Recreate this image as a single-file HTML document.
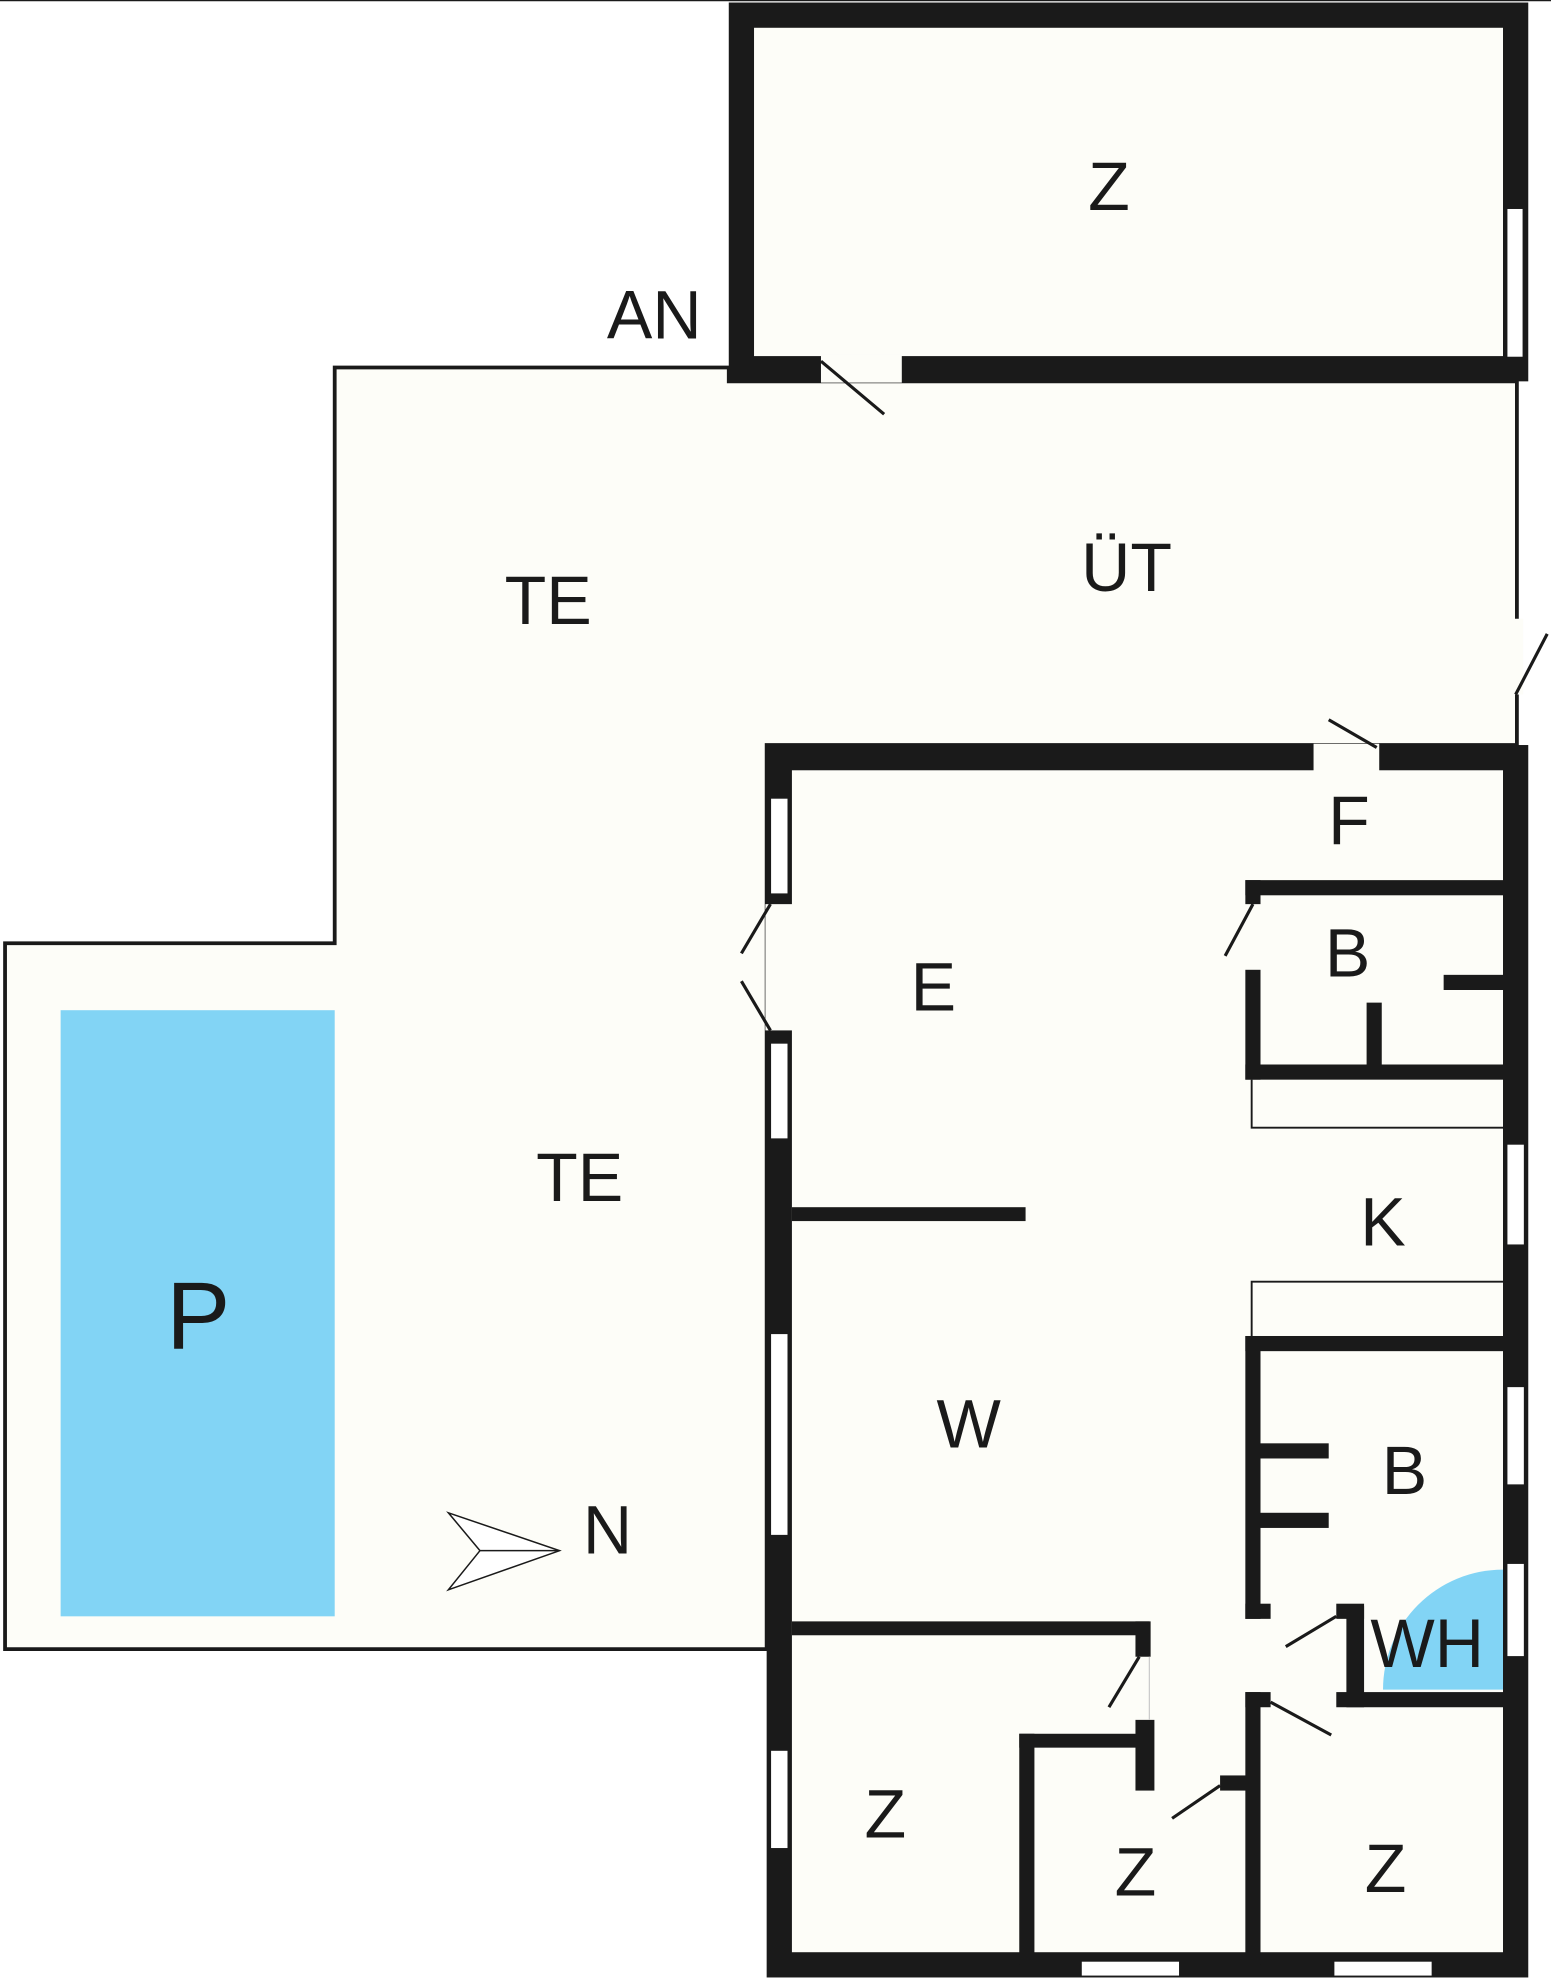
<!DOCTYPE html>
<html><head><meta charset="utf-8"><style>
html,body{margin:0;padding:0;background:#fff}
svg{display:block}
text{font-family:"Liberation Sans Narrow","Liberation Sans",sans-serif;fill:#1a1a1a;text-anchor:middle;dominant-baseline:central}
</style></head><body>
<svg width="1551" height="1980" viewBox="0 0 1228 1568" preserveAspectRatio="none" xmlns="http://www.w3.org/2000/svg">
<rect x="0" y="0" width="1228" height="1568" fill="#fff"/>
<line x1="0" y1="0.5" x2="1228" y2="0.5" stroke="#1a1a1a" stroke-width="1"/>
<!-- terrace -->
<polygon points="577,291 265,291 265,747 4,747 4,1306 607,1306 607,590 1201,590 1201,302 577,302" fill="#fdfdf8" stroke="#1a1a1a" stroke-width="3"/>
<rect x="1196" y="490" width="10" height="60" fill="#fdfdf8"/>
<line x1="1200" y1="550" x2="1225" y2="502" stroke="#1a1a1a" stroke-width="2.5"/>
<!-- garage -->
<rect x="587" y="12" width="613" height="280" fill="#fdfdf8" stroke="#1a1a1a" stroke-width="20"/>
<rect x="650" y="281" width="64" height="22" fill="#fdfdf8"/>
<line x1="650" y1="286" x2="700" y2="328" stroke="#1a1a1a" stroke-width="2.5"/>
<rect x="1193" y="165" width="13" height="118" fill="#fff" stroke="#1a1a1a" stroke-width="1"/>
<!-- house -->
<rect x="617" y="600" width="583" height="956" fill="#fdfdf8" stroke="#1a1a1a" stroke-width="20"/>
<rect x="1040" y="589" width="52" height="22" fill="#fdfdf8"/>
<line x1="1052" y1="570" x2="1090" y2="592" stroke="#1a1a1a" stroke-width="2.5"/>
<!-- left wall openings -->
<rect x="610" y="632" width="14" height="76" fill="#fff" stroke="#1a1a1a" stroke-width="1"/>
<rect x="606" y="716" width="22" height="100" fill="#fdfdf8"/>
<line x1="587" y1="755" x2="610" y2="716" stroke="#1a1a1a" stroke-width="2.5"/>
<line x1="587" y1="777" x2="610" y2="816" stroke="#1a1a1a" stroke-width="2.5"/>
<rect x="610" y="826" width="14" height="76" fill="#fff" stroke="#1a1a1a" stroke-width="1"/>
<rect x="610" y="1056" width="14" height="160" fill="#fff" stroke="#1a1a1a" stroke-width="1"/>
<rect x="610" y="1386" width="14" height="78" fill="#fff" stroke="#1a1a1a" stroke-width="1"/>
<!-- right wall windows -->
<rect x="1193" y="906" width="14" height="80" fill="#fff" stroke="#1a1a1a" stroke-width="1"/>
<rect x="1193" y="1098" width="14" height="78" fill="#fff" stroke="#1a1a1a" stroke-width="1"/>
<rect x="1193" y="1238" width="14" height="74" fill="#fff" stroke="#1a1a1a" stroke-width="1"/>
<!-- bottom windows -->
<rect x="856" y="1553" width="78" height="12" fill="#fff" stroke="#1a1a1a" stroke-width="1"/>
<rect x="1056" y="1553" width="78" height="12" fill="#fff" stroke="#1a1a1a" stroke-width="1"/>
<!-- pool -->
<rect x="48" y="800" width="217" height="480" fill="#82d4f5"/>
<!-- WH quarter -->
<path d="M1190,1338 L1095,1338 A95,95 0 0 1 1190,1243 Z" fill="#82d4f5"/>
<g fill="#1a1a1a">
<!-- E/W partition -->
<rect x="627" y="956" width="185" height="11"/>
<!-- Z left top wall -->
<rect x="627" y="1284" width="283" height="11"/>
<rect x="899" y="1284" width="12" height="28"/>
<rect x="899" y="1362" width="15" height="56"/>
<rect x="807" y="1373" width="93" height="11"/>
<rect x="807" y="1373" width="12" height="183"/>
<rect x="966" y="1406" width="30" height="12"/>
<rect x="986" y="1340" width="12" height="216"/>
<rect x="986" y="1340" width="20" height="12"/>
<rect x="1058" y="1340" width="132" height="12"/>
<rect x="1066" y="1272" width="14" height="80"/>
<!-- lower B -->
<rect x="986" y="1058" width="204" height="12"/>
<rect x="986" y="1058" width="12" height="224"/>
<rect x="986" y="1270" width="20" height="12"/>
<rect x="1058" y="1270" width="22" height="12"/>
<rect x="998" y="1143" width="54" height="12"/>
<rect x="998" y="1198" width="54" height="12"/>
<!-- upper B -->
<rect x="986" y="697" width="204" height="12"/>
<rect x="986" y="697" width="12" height="19"/>
<rect x="986" y="768" width="12" height="87"/>
<rect x="986" y="843" width="204" height="12"/>
<rect x="1082" y="794" width="12" height="50"/>
<rect x="1143" y="772" width="47" height="12"/>
</g>
<g stroke="#1a1a1a" stroke-width="2.5" fill="none">
<line x1="878" y1="1352" x2="902" y2="1312"/>
<line x1="928" y1="1440" x2="966" y2="1414"/>
<line x1="1006" y1="1348" x2="1054" y2="1374"/>
<line x1="1018" y1="1304" x2="1058" y2="1280"/>
<line x1="970" y1="757" x2="992" y2="716"/>
</g>
<g stroke="#1a1a1a" stroke-width="1.5" fill="none">
<polyline points="991,855 991,893 1190,893"/>
<polyline points="991,1058 991,1015 1190,1015"/>
<line x1="910" y1="1312" x2="910" y2="1362" stroke="#ccc" stroke-width="1"/>
</g>
<!-- north arrow -->
<g stroke="#1a1a1a" stroke-width="1.2" fill="#fff">
<polygon points="355,1198 443,1228 355,1259 380,1228"/>
<line x1="380" y1="1228" x2="443" y2="1228"/>
</g>
<g font-size="54">
<text x="878" y="148">Z</text>
<text x="518" y="250">AN</text>
<text x="434" y="476">TE</text>
<text x="892" y="450">ÜT</text>
<text x="1068" y="650">F</text>
<text x="1067" y="755">B</text>
<text x="739" y="782">E</text>
<text x="459" y="933">TE</text>
<text x="1095" y="968">K</text>
<text x="157" y="1042" font-size="76">P</text>
<text x="767" y="1128">W</text>
<text x="1112" y="1165">B</text>
<text x="481" y="1212">N</text>
<text x="1130" y="1302">WH</text>
<text x="701" y="1437">Z</text>
<text x="899" y="1483">Z</text>
<text x="1097" y="1480">Z</text>
</g>
</svg>
</body></html>
